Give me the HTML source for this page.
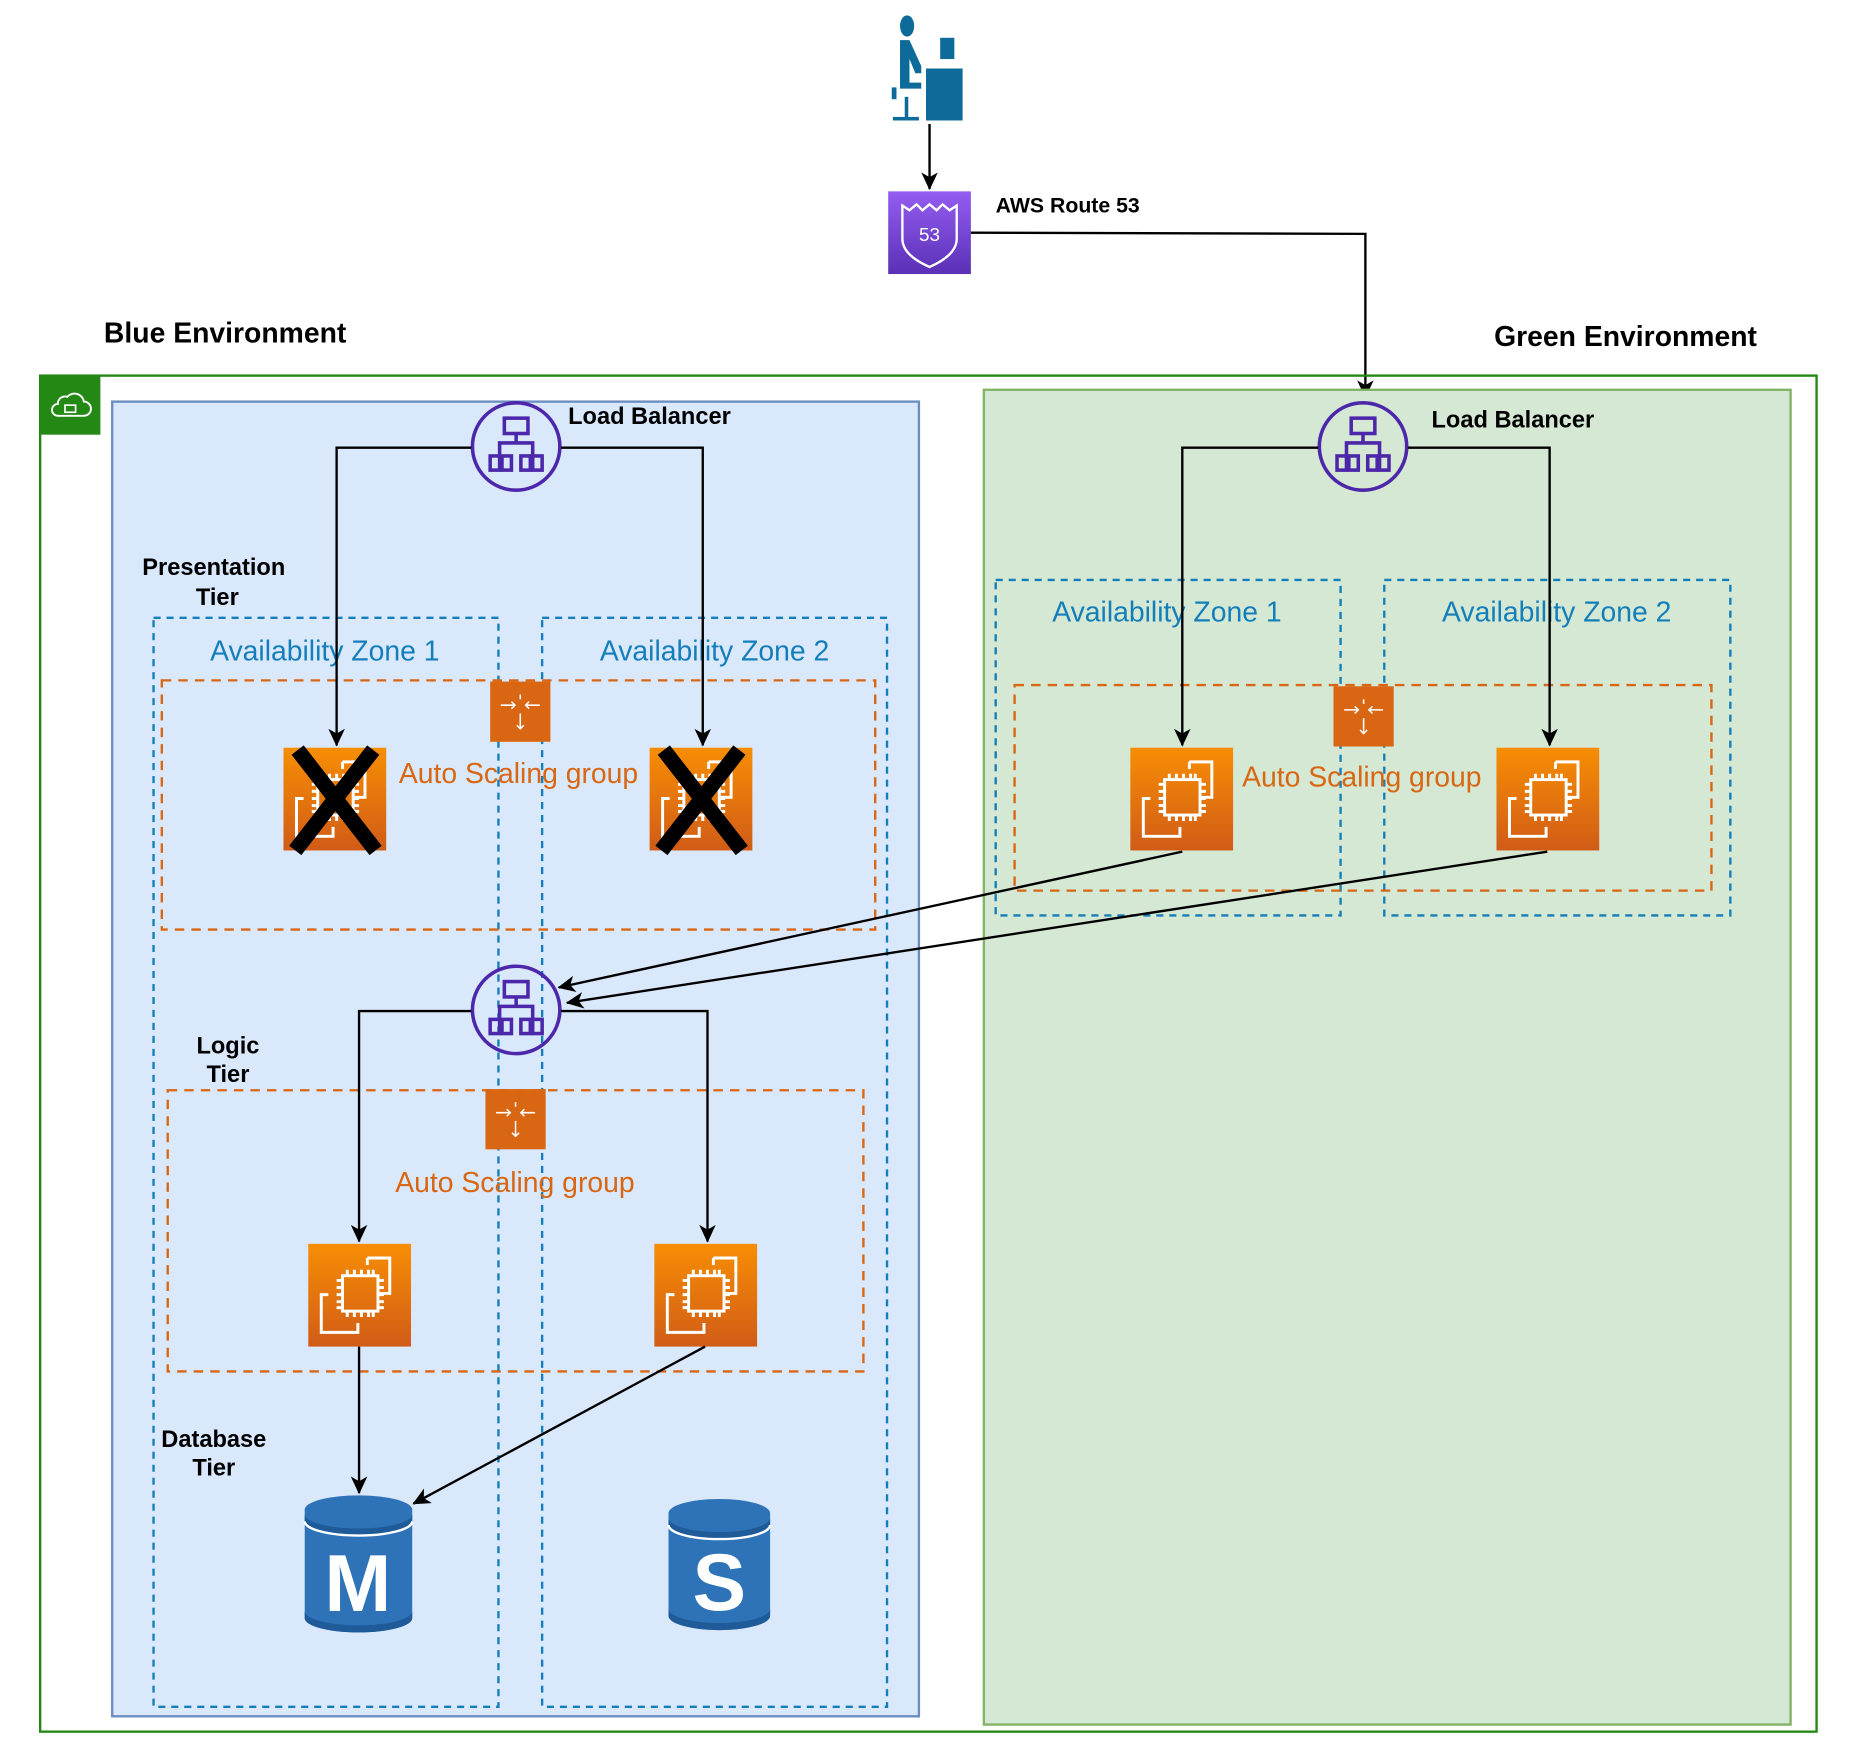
<!DOCTYPE html>
<html><head><meta charset="utf-8"><style>
html,body{margin:0;padding:0;background:#fff;}
svg{display:block;}
text{font-family:"Liberation Sans",Arial,sans-serif;}
</style></head><body>
<svg width="1852" height="1760" viewBox="0 0 1568 1490" preserveAspectRatio="none" xmlns="http://www.w3.org/2000/svg">
<defs>
<linearGradient id="og" x1="0" y1="0" x2="0" y2="1"><stop offset="0" stop-color="#f78e04"/><stop offset="1" stop-color="#d05c17"/></linearGradient>
<linearGradient id="pg" x1="0" y1="0" x2="0" y2="1"><stop offset="0" stop-color="#945df2"/><stop offset="1" stop-color="#5a30b5"/></linearGradient>
<marker id="ar" markerWidth="16" markerHeight="16" refX="14" refY="7" orient="auto" markerUnits="userSpaceOnUse"><path d="M0,0 L15,7 L0,14 L4,7 z" fill="#000"/></marker>
<g id="ec2">
<rect width="87" height="87" fill="url(#og)"/>
<g fill="none" stroke="#fff" stroke-width="2.5">
<path d="M50,12 H69 V42 H60"/><path d="M50,12 V18"/>
<path d="M17,43 H11 V75 H42 V67"/>
<rect x="29" y="27" width="30" height="30"/>
<path d="M33,27 v-5 M39,27 v-5 M45,27 v-5 M51,27 v-5 M55,27 v-5 M33,57 v5 M39,57 v5 M45,57 v5 M51,57 v5 M55,57 v5 M29,31 h-5 M29,37 h-5 M29,43 h-5 M29,49 h-5 M29,54 h-5 M59,31 h5 M59,37 h5 M59,43 h5 M59,49 h5 M59,54 h5"/>
</g></g>
<g id="asg">
<rect width="51" height="51" fill="#d86613"/>
<g stroke="#fff" stroke-width="1.3" fill="none"><path d="M9,20 H21 M18,17 l3,3 -3,3 M42,20 H30 M33,17 l-3,3 3,3 M25.5,27 V40 M22.5,37 l3,3 3,-3 M25.5,11 V15"/></g>
</g>
<g id="lb">
<circle r="37" fill="none" stroke="#4d27aa" stroke-width="3"/>
<g fill="none" stroke="#4d27aa" stroke-width="3"><rect x="-10" y="-24" width="20" height="13"/><path d="M0,-11 V-3 M-14,3 V-3 H14 V3 M-14,3 V8 M14,3 v5"/><rect x="-22" y="8" width="8" height="12"/><rect x="-12" y="8" width="8" height="12"/><rect x="4" y="8" width="8" height="12"/><rect x="14" y="8" width="8" height="12"/></g>
</g>
</defs>

<g fill="#0d6a99">
<ellipse cx="768" cy="22" rx="6" ry="9"/>
<path d="M762,34 h8 l10,22 v6 h-5 l-5,-12 v20 h10 v5 h-18 z"/>
<rect x="796" y="32" width="12" height="18"/>
<rect x="784" y="58" width="31" height="44"/>
<rect x="755" y="74" width="4" height="10"/>
<rect x="766" y="82" width="3" height="18"/>
<rect x="756" y="99" width="22" height="3"/>
</g>
<line x1="787" y1="105" x2="787" y2="160" stroke="#000" stroke-width="2" marker-end="url(#ar)"/>

<rect x="752" y="162" width="70" height="70" fill="url(#pg)"/>
<path d="M764,174 l6,4 6,-5 5,5 6,-5 6,5 5,-5 6,5 6,-4 v28 q0,14 -23,24 q-23,-10 -23,-24 z" fill="none" stroke="#fff" stroke-width="2"/>
<text x="787" y="204" font-size="16" fill="#fff" text-anchor="middle">53</text>
<text x="843" y="180" font-size="18" font-weight="bold">AWS Route 53</text>
<polyline points="822,197 1156,198 1156,336" fill="none" stroke="#000" stroke-width="2" marker-end="url(#ar)"/>

<text x="88" y="290" font-size="24" font-weight="bold">Blue Environment</text>
<text x="1265" y="293" font-size="24" font-weight="bold">Green Environment</text>

<rect x="34" y="318" width="1504" height="1148" fill="none" stroke="#248814" stroke-width="2"/>
<rect x="34" y="318" width="51" height="50" fill="#248814"/>
<path d="M49,352 h22 a6,6 0 0 0 0,-12 a8,8 0 0 0 -14,-4 a6,6 0 0 0 -8,6 a5,5 0 0 0 0,10 z" fill="none" stroke="#fff" stroke-width="1.6"/>
<rect x="55" y="343" width="9" height="6" fill="none" stroke="#fff" stroke-width="1.4"/>

<rect x="95" y="340" width="683" height="1113" fill="#dae8fc" stroke="#6c8ebf" stroke-width="2"/>
<rect x="833" y="330" width="683" height="1130" fill="#d5e8d4" stroke="#82b366" stroke-width="2"/>

<g fill="none" stroke="#147eba" stroke-width="2" stroke-dasharray="6,5">
<rect x="130" y="523" width="292" height="922"/><rect x="459" y="523" width="292" height="922"/>
<rect x="843" y="491" width="292" height="284"/><rect x="1172" y="491" width="293" height="284"/>
</g>
<g font-size="24" fill="#147eba" text-anchor="middle">
<text x="275" y="559">Availability Zone 1</text><text x="605" y="559">Availability Zone 2</text>
<text x="988" y="526">Availability Zone 1</text><text x="1318" y="526">Availability Zone 2</text>
</g>
<g fill="none" stroke="#d86613" stroke-width="2" stroke-dasharray="8,6">
<rect x="137" y="576" width="604" height="211"/>
<rect x="142" y="923" width="589" height="238"/>
<rect x="859" y="580" width="590" height="174"/>
</g>
<use href="#asg" x="415" y="577"/><use href="#asg" x="411" y="922"/><use href="#asg" x="1129" y="581"/>
<g font-size="24" fill="#d86613" text-anchor="middle">
<text x="439" y="663">Auto Scaling group</text><text x="436" y="1009">Auto Scaling group</text><text x="1153" y="666">Auto Scaling group</text>
</g>

<g font-size="20" font-weight="bold" text-anchor="middle">
<text x="181" y="487">Presentation</text><text x="184" y="512">Tier</text>
<text x="193" y="892">Logic</text><text x="193" y="916">Tier</text>
<text x="181" y="1225">Database</text><text x="181" y="1249">Tier</text>
</g>
<text x="481" y="359" font-size="20" font-weight="bold">Load Balancer</text>
<text x="1212" y="362" font-size="20" font-weight="bold">Load Balancer</text>

<use href="#ec2" x="240" y="633"/><use href="#ec2" x="550" y="633"/>
<use href="#ec2" x="957" y="633"/><use href="#ec2" x="1267" y="633"/>
<use href="#ec2" x="261" y="1053"/><use href="#ec2" x="554" y="1053"/>
<g stroke="#000" stroke-width="13"><path d="M252,635 L318,720 M316,635 L250,720"/><path d="M562,635 L628,720 M626,635 L560,720"/></g>

<use href="#lb" x="437" y="378"/><use href="#lb" x="1154" y="378"/><use href="#lb" x="437" y="855"/>

<g fill="none" stroke="#000" stroke-width="2" marker-end="url(#ar)">
<polyline points="399,379 285,379 285,631"/>
<polyline points="475,379 595,379 595,631"/>
<polyline points="1116,379 1001,379 1001,631"/>
<polyline points="1192,379 1312,379 1312,631"/>
<polyline points="399,856 304,856 304,1051"/>
<polyline points="475,856 599,856 599,1051"/>
<line x1="1001" y1="721" x2="473" y2="836"/>
<line x1="1310" y1="721" x2="480" y2="849"/>
<line x1="304" y1="1140" x2="304" y2="1264"/>
<line x1="597" y1="1140" x2="350" y2="1273"/>
</g>

<g>
<path d="M258,1278 v92 a45.5,12 0 0 0 91,0 v-92 z" fill="#2e73b8"/>
<path d="M258,1370 a45.5,12 0 0 0 91,0 v-6 a45.5,12 0 0 1 -91,0 z" fill="#1f5b99"/>
<ellipse cx="303.5" cy="1278" rx="45.5" ry="12" fill="#2e73b8"/>
<path d="M258,1282 a45.5,12 0 0 0 91,0 v6 a45.5,12 0 0 1 -91,0 z" fill="#1f5b99"/>
<path d="M258,1288 a45.5,12 0 0 0 91,0" fill="none" stroke="#fff" stroke-width="2"/>
<text x="303" y="1364" font-size="68" font-weight="bold" fill="#fff" text-anchor="middle">M</text>
<path d="M566,1281 v87 a43,12 0 0 0 86,0 v-87 z" fill="#2e73b8"/>
<path d="M566,1368 a43,12 0 0 0 86,0 v-6 a43,12 0 0 1 -86,0 z" fill="#1f5b99"/>
<ellipse cx="609" cy="1281" rx="43" ry="12" fill="#2e73b8"/>
<path d="M566,1285 a43,12 0 0 0 86,0 v6 a43,12 0 0 1 -86,0 z" fill="#1f5b99"/>
<path d="M566,1291 a43,12 0 0 0 86,0" fill="none" stroke="#fff" stroke-width="2"/>
<text x="609" y="1363" font-size="68" font-weight="bold" fill="#fff" text-anchor="middle">S</text>
</g>
</svg>
</body></html>
